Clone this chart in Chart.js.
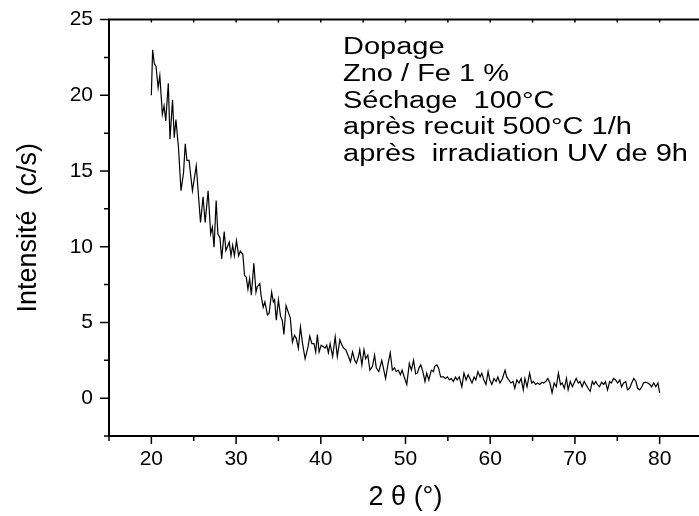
<!DOCTYPE html>
<html>
<head>
<meta charset="utf-8">
<script src="https://cdn.jsdelivr.net/npm/chart.js@4/dist/chart.umd.min.js"></script>
<style>
  html, body { margin: 0; padding: 0; overflow: hidden; background: #fff; }
  canvas { display: block; }
</style>
</head>
<body>
<canvas id="xrd" width="705" height="516"></canvas>
<script>
// Diffraction angle 2θ (degrees)
const twoTheta = [
  20.0, 20.15, 20.35, 20.55, 20.8, 21.0, 21.3, 21.5, 21.7, 22.0,
  22.2, 22.5, 22.7, 22.9, 23.2, 23.5, 23.8, 24.0, 24.2, 24.45,
  24.85, 25.3, 25.8, 26.1, 26.35, 26.7, 27.0, 27.2, 27.4, 27.65,
  27.85, 28.1, 28.3, 28.6, 28.8, 29.2, 29.4, 29.6, 29.8, 30.05,
  30.3, 30.5, 30.8, 31.0, 31.2, 31.4, 31.6, 31.8, 32.1, 32.35,
  32.5, 32.8, 32.95, 33.2, 33.4, 33.7, 33.9, 34.2, 34.4, 34.55,
  34.75, 35.0, 35.25, 35.45, 35.65, 35.9, 36.15, 36.4, 36.65, 36.9,
  37.1, 37.35, 37.6, 37.85, 38.15, 38.5, 38.7, 38.95, 39.2, 39.4,
  39.6, 39.8, 40.05, 40.3, 40.5, 40.7, 40.9, 41.1, 41.4, 41.7,
  41.95, 42.25, 42.5, 42.7, 42.95, 43.2, 43.5, 43.75, 44.0, 44.2,
  44.45, 44.6, 44.85, 45.1, 45.3, 45.55, 45.8, 46.1, 46.35, 46.55,
  46.85, 47.2, 47.35, 47.65, 47.95, 48.2, 48.45, 48.7, 48.9, 49.15,
  49.4, 49.6, 49.85, 50.15, 50.45, 50.7, 50.95, 51.2, 51.4, 51.6,
  51.8, 52.05, 52.3, 52.5, 52.75, 53.05, 53.3, 53.45, 53.7, 53.9,
  54.15, 54.5, 54.7, 54.95, 55.2, 55.4, 55.65, 55.9, 56.1, 56.35,
  56.65, 56.9, 57.15, 57.4, 57.6, 57.85, 58.1, 58.3, 58.55, 58.8,
  59.0, 59.25, 59.5, 59.75, 59.95, 60.2, 60.45, 60.7, 60.9, 61.15,
  61.45, 61.75, 61.95, 62.2, 62.45, 62.7, 62.9, 63.15, 63.4, 63.65,
  63.9, 64.1, 64.35, 64.65, 64.9, 65.1, 65.35, 65.6, 65.85, 66.1,
  66.3, 66.55, 66.8, 67.05, 67.3, 67.55, 67.8, 68.05, 68.3, 68.5,
  68.75, 69.0, 69.2, 69.45, 69.7, 69.9, 70.15, 70.4, 70.6, 70.85,
  71.1, 71.3, 71.55, 71.8, 72.05, 72.25, 72.45, 72.65, 72.9, 73.15,
  73.4, 73.6, 73.85, 74.1, 74.3, 74.55, 74.8, 75.05, 75.3, 75.5,
  75.75, 76.0, 76.2, 76.45, 76.7, 76.95, 77.2, 77.4, 77.65, 77.9,
  78.1, 78.35, 78.6, 78.85, 79.05, 79.3, 79.55, 79.8, 80.0
];

// Measured intensity (counts per second)
const intensity = [
  20.0, 23.0, 22.1, 21.9, 20.5, 21.3, 18.75, 19.3, 18.3, 20.8,
  17.1, 19.7, 17.2, 18.4, 16.55, 13.7, 14.9, 16.8, 15.7, 15.7,
  13.7, 15.35, 11.6, 13.3, 11.6, 13.7, 10.85, 11.3, 9.97, 13.05,
  10.85, 10.6, 9.2, 11.0, 9.75, 10.3, 9.4, 10.1, 9.4, 10.4,
  9.4, 9.7, 9.5, 8.1, 8.0, 7.2, 7.9, 6.8, 8.9, 7.0,
  7.35, 7.55, 6.8, 6.0, 6.35, 5.5, 5.6, 7.0, 6.35, 6.5,
  5.15, 6.5, 5.4, 5.15, 4.2, 6.1, 5.7, 5.3, 3.7, 4.15,
  3.95, 3.3, 4.7, 3.6, 2.6, 3.4, 4.1, 3.6, 3.6, 3.05,
  4.2, 3.05, 3.5, 3.4, 3.3, 3.5, 3.0, 3.6, 2.75, 4.05,
  2.75, 3.85, 3.5, 3.3, 3.2, 2.85, 2.4, 3.05, 2.5, 2.3,
  2.75, 3.2, 2.2, 3.2, 2.6, 2.85, 1.85, 2.1, 2.85, 2.0,
  1.75, 2.5, 2.1, 1.3, 2.3, 3.0, 1.85, 2.0, 1.75, 1.85,
  1.55, 1.85, 1.4, 0.9, 2.3, 1.85, 2.5, 1.6, 1.65, 2.0,
  2.2, 1.75, 1.1, 1.65, 1.2, 1.85, 1.75, 2.1, 2.2, 2.0,
  1.4, 1.4, 1.3, 1.4, 1.2, 1.3, 1.1, 1.4, 1.2, 1.4,
  0.75, 1.65, 1.2, 1.55, 1.3, 1.0, 1.4, 1.2, 1.75, 1.4,
  1.65, 1.2, 0.9, 1.75, 1.2, 0.9, 1.3, 1.1, 1.4, 1.0,
  1.3, 1.85, 1.4, 1.2, 1.0, 1.1, 0.65, 1.2, 1.0, 1.3,
  0.55, 1.3, 0.75, 1.65, 1.0, 1.1, 0.9, 1.0, 0.9, 1.05,
  1.0, 1.1, 1.3, 1.0, 0.35, 1.0, 0.75, 1.65, 0.9, 1.0,
  0.65, 1.3, 0.55, 1.1, 0.75, 1.0, 1.3, 1.0, 1.1, 0.75,
  1.1, 0.9, 0.65, 0.45, 1.1, 0.9, 1.1, 0.9, 0.75, 1.05,
  0.9, 1.1, 0.55, 1.1, 1.0, 1.3, 1.2, 1.0, 1.2, 0.75,
  1.0, 1.1, 0.55, 0.65, 1.0, 1.3, 1.1, 0.65, 0.55, 0.75,
  1.0, 1.05, 1.0, 0.9, 0.75, 1.0, 0.75, 1.0, 0.35
];

// Axis ranges and tick spacing
const xRange = [15, 85];
const yRange = [-2.5, 25];
const xStep = 5;
const yStep = 2.5;
const xLabelEvery = 10;
const yLabelEvery = 5;

// Sample description printed inside the plot
const sampleNotes = [
  'Dopage',
  'Zno / Fe 1 %',
  'Séchage  100°C',
  'après recuit 500°C 1/h',
  'après  irradiation UV de 9h'
];

const FONT = "'Liberation Sans', Arial, Helvetica, sans-serif";

const isLabelled = (v, every) => Math.abs(v / every - Math.round(v / every)) < 1e-6;

// Axis frame with outward tick marks (long for labelled, short otherwise)
const framePlugin = {
  id: 'frame',
  afterDatasetsDraw(chart) {
    const { ctx, chartArea: a, scales } = chart;
    const xs = scales.x, ys = scales.y;
    ctx.save();
    ctx.strokeStyle = '#000';
    ctx.lineWidth = 2;
    ctx.lineCap = 'square';
    ctx.beginPath();
    ctx.moveTo(a.left, a.top);
    ctx.lineTo(a.right, a.top);
    ctx.moveTo(a.left, a.top);
    ctx.lineTo(a.left, a.bottom);
    ctx.lineTo(a.right, a.bottom);
    ctx.stroke();

    ctx.lineWidth = 1.5;
    ctx.lineCap = 'butt';
    ctx.beginPath();
    xs.ticks.forEach(t => {
      const px = xs.getPixelForValue(t.value);
      const len = isLabelled(t.value, xLabelEvery) ? 8 : 5;
      ctx.moveTo(px, a.bottom);
      ctx.lineTo(px, a.bottom + len);
      ctx.moveTo(px, a.top);
      ctx.lineTo(px, a.top + 3);
    });
    ys.ticks.forEach(t => {
      const py = ys.getPixelForValue(t.value);
      const len = isLabelled(t.value, yLabelEvery) ? 9 : 5;
      ctx.moveTo(a.left, py);
      ctx.lineTo(a.left - len, py);
    });
    ctx.stroke();

    // sample notes (slightly condensed vertically)
    ctx.fillStyle = '#000';
    ctx.font = '29px ' + FONT;
    ctx.textAlign = 'left';
    ctx.textBaseline = 'alphabetic';
    sampleNotes.forEach((line, i) => {
      ctx.save();
      ctx.translate(343, 54 + i * 26.8);
      ctx.scale(1, 0.84);
      ctx.fillText(line, 0, 0);
      ctx.restore();
    });
    ctx.restore();
  }
};

new Chart(document.getElementById('xrd'), {
  type: 'scatter',
  data: {
    datasets: [{
      data: twoTheta.map((x, i) => ({ x, y: intensity[i] })),
      showLine: true,
      borderColor: '#000',
      borderWidth: 1.2,
      pointRadius: 0,
      tension: 0
    }]
  },
  options: {
    responsive: false,
    animation: false,
    devicePixelRatio: 1,
    layout: { padding: { top: 18, left: 0, right: 0, bottom: 0 } },
    plugins: {
      legend: { display: false },
      tooltip: { enabled: false }
    },
    scales: {
      x: {
        type: 'linear',
        min: xRange[0],
        max: xRange[1],
        afterFit(scale) { scale.height = 80; },
        border: { display: false },
        grid: { drawOnChartArea: false, drawTicks: true, tickLength: 8, tickColor: 'rgba(0,0,0,0)' },
        ticks: {
          stepSize: xStep,
          includeBounds: false,
          autoSkip: false,
          maxRotation: 0,
          padding: 3,
          color: '#000',
          font: { family: FONT, size: 21 },
          callback: v => (isLabelled(v, xLabelEvery) && v >= 20 && v <= 80) ? String(v) : ''
        },
        title: {
          display: true,
          text: '2 θ (°)',
          color: '#000',
          font: { family: FONT, size: 27 },
          padding: { top: 0, bottom: 2 }
        }
      },
      y: {
        type: 'linear',
        min: yRange[0],
        max: yRange[1],
        afterFit(scale) { scale.width = 109; },
        border: { display: false },
        grid: { drawOnChartArea: false, drawTicks: true, tickLength: 9, tickColor: 'rgba(0,0,0,0)' },
        ticks: {
          stepSize: yStep,
          includeBounds: false,
          autoSkip: false,
          padding: 7,
          color: '#000',
          font: { family: FONT, size: 21 },
          callback: v => isLabelled(v, yLabelEvery) ? String(v) : ''
        },
        title: {
          display: true,
          text: 'Intensité  (c/s)',
          color: '#000',
          font: { family: FONT, size: 27 },
          padding: { top: 12, bottom: 0 }
        }
      }
    }
  },
  plugins: [framePlugin]
});
</script>
</body>
</html>
